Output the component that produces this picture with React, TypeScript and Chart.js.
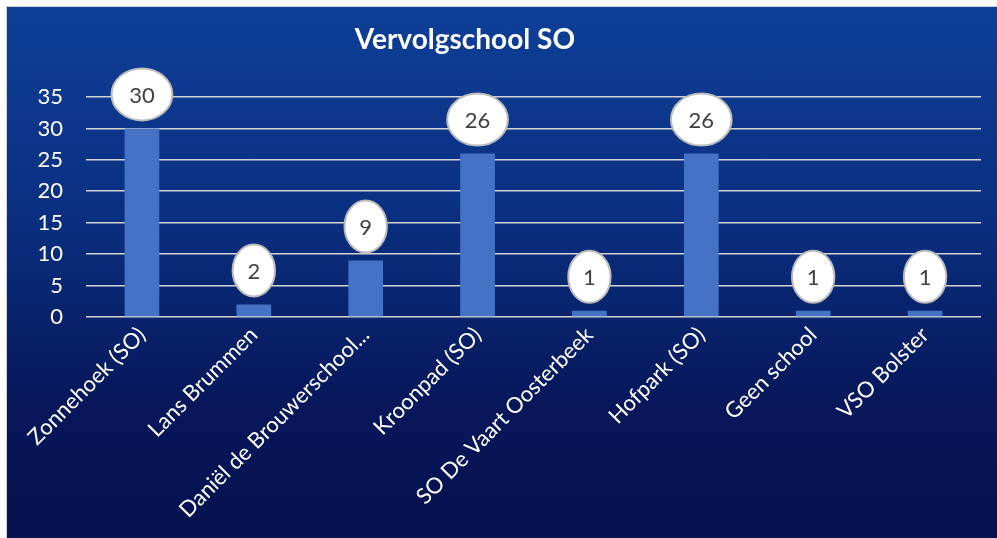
import React, { useEffect, useRef } from "react";
import { Chart, registerables } from "chart.js";

Chart.register(...registerables);

const chartTitle = "Vervolgschool SO";
const categories = [
  "Zonnehoek (SO)",
  "Lans Brummen",
  "Daniël de Brouwerschool...",
  "Kroonpad (SO)",
  "SO De Vaart Oosterbeek",
  "Hofpark (SO)",
  "Geen school",
  "VSO Bolster",
];
const counts = [30, 2, 9, 26, 1, 26, 1, 1];
const yMin = 0;
const yMax = 35;
const yStep = 5;

const FONT = "Lato, Carlito, 'Open Sans', sans-serif";

const bubbleLabels = {
  id: "bubbleLabels",
  afterDatasetsDraw(chart: any) {
    const ctx = chart.ctx;
    const meta = chart.getDatasetMeta(0);
    ctx.save();
    ctx.font = `22px ${FONT}`;
    meta.data.forEach((el: any, i: number) => {
      const txt = String(counts[i]);
      const tw = ctx.measureText(txt).width;
      const rx = tw * 0.72 + 12;
      const ry = 26;
      const cx = el.x;
      const cy = el.y - 34;
      ctx.beginPath();
      ctx.ellipse(cx, cy, rx, ry, 0, 0, Math.PI * 2);
      ctx.fillStyle = "#ffffff";
      ctx.fill();
      ctx.lineWidth = 2;
      ctx.strokeStyle = "#bcbcbc";
      ctx.stroke();
      ctx.fillStyle = "#404040";
      ctx.textAlign = "center";
      ctx.textBaseline = "middle";
      ctx.fillText(txt, cx, cy + 1);
    });
    ctx.restore();
  },
};

const titlePlugin = {
  id: "customTitle",
  afterDraw(chart: any) {
    const ctx = chart.ctx;
    ctx.save();
    ctx.font = `bold 28px ${FONT}`;
    ctx.fillStyle = "#ffffff";
    ctx.textAlign = "center";
    ctx.textBaseline = "middle";
    ctx.fillText(chartTitle, chart.width * 0.4625, 33);
    ctx.restore();
  },
};

export default function App() {
  const ref = useRef<HTMLCanvasElement | null>(null);

  useEffect(() => {
    if (!ref.current) return;
    const chart = new Chart(ref.current, {
      type: "bar",
      data: {
        labels: categories,
        datasets: [
          {
            data: counts,
            backgroundColor: "#4472C4",
            barPercentage: 0.31,
            categoryPercentage: 1,
          },
        ],
      },
      options: {
        responsive: false,
        animation: false,
        layout: { padding: { top: 90, right: 16, left: 0, bottom: 0 } },
        plugins: {
          legend: { display: false },
          tooltip: { enabled: false },
          title: { display: false },
        },
        scales: {
          x: {
            grid: { display: false, drawTicks: false },
            border: { display: false },
            ticks: {
              color: "#ffffff",
              font: { family: FONT, size: 22 },
              autoSkip: false,
              maxRotation: 45,
              minRotation: 45,
              padding: 5,
            },
            afterFit(scale: any) {
              scale.height = 221;
            },
          },
          y: {
            min: yMin,
            max: yMax,
            grid: { color: "#d4d4d4", lineWidth: 1.6, drawTicks: false },
            border: { display: false },
            ticks: {
              stepSize: yStep,
              color: "#ffffff",
              font: { family: FONT, size: 22 },
              padding: 23,
            },
            afterFit(scale: any) {
              scale.width = 79;
            },
          },
        },
      },
      plugins: [bubbleLabels, titlePlugin],
    });
    return () => chart.destroy();
  }, []);

  return (
    <div
      style={{
        position: "absolute",
        left: 6,
        top: 6,
        width: 991,
        height: 532,
        boxSizing: "border-box",
        borderTop: "1px solid #d0d0d0",
        borderLeft: "1px solid #d0d0d0",
        background: "linear-gradient(180deg, #0e3f98 0%, #0a2f80 40%, #07175a 75%, #061250 100%)",
      }}
    >
      <canvas ref={ref} width={990} height={531} style={{ display: "block" }} />
    </div>
  );
}
